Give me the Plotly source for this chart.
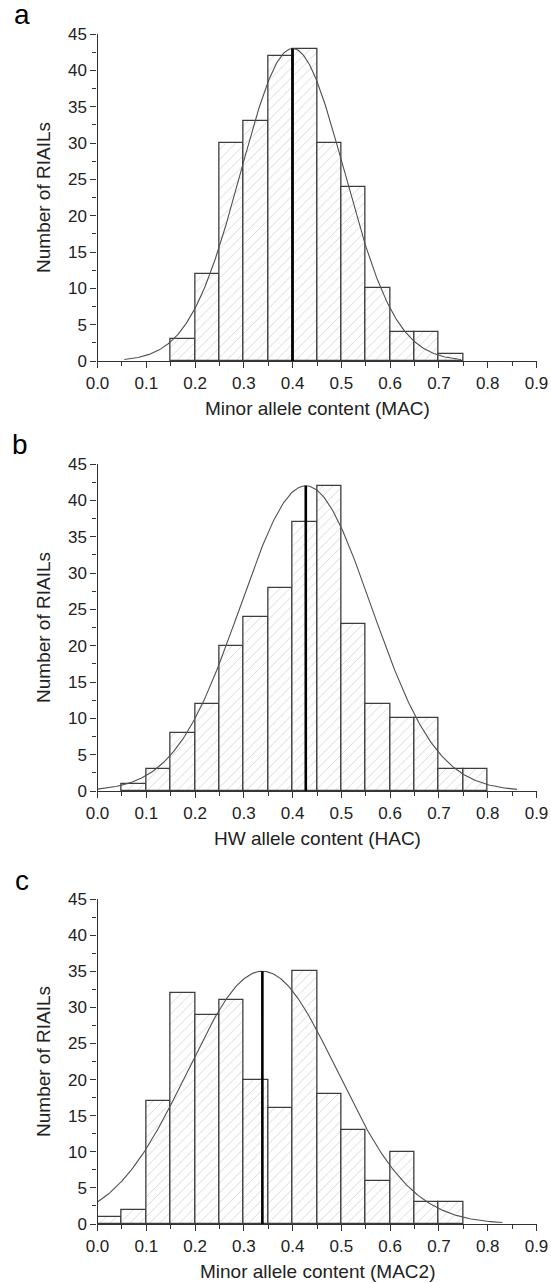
import numpy as np
import plotly.graph_objects as go

# ---------------- data ----------------
bin_width = 0.05

# panel a: Minor allele content (MAC)
a_bin_starts = [0.15, 0.20, 0.25, 0.30, 0.35, 0.40, 0.45, 0.50, 0.55, 0.60, 0.65, 0.70]
a_counts = [3, 12, 30, 33, 42, 43, 30, 24, 10, 4, 4, 1]
a_mean, a_sigma, a_peak = 0.400, 0.106, 43
a_curve_range = [0.055, 0.745]

# panel b: HW allele content (HAC)
b_bin_starts = [0.05, 0.10, 0.15, 0.20, 0.25, 0.30, 0.35, 0.40, 0.45, 0.50, 0.55, 0.60, 0.65, 0.70, 0.75]
b_counts = [1, 3, 8, 12, 20, 24, 28, 37, 42, 23, 12, 10, 10, 3, 3]
b_mean, b_sigma, b_peak = 0.427, 0.134, 42
b_curve_range = [0.0, 0.86]

# panel c: Minor allele content (MAC2)
c_bin_starts = [0.00, 0.05, 0.10, 0.15, 0.20, 0.25, 0.30, 0.35, 0.40, 0.45, 0.50, 0.55, 0.60, 0.65, 0.70]
c_counts = [1, 2, 17, 32, 29, 31, 20, 16, 35, 18, 13, 6, 10, 3, 3]
c_mean, c_sigma, c_peak = 0.338, 0.153, 35
c_curve_range = [0.0, 0.83]

x_ticks = [0.0, 0.1, 0.2, 0.3, 0.4, 0.5, 0.6, 0.7, 0.8, 0.9]
x_tick_labels = ["0.0", "0.1", "0.2", "0.3", "0.4", "0.5", "0.6", "0.7", "0.8", "0.9"]
y_ticks = [0, 5, 10, 15, 20, 25, 30, 35, 40, 45]

x_titles = ["Minor allele content (MAC)", "HW allele content (HAC)", "Minor allele content (MAC2)"]
y_title = "Number of RIAILs"
panel_letters = ["a", "b", "c"]

panels = [
    (a_bin_starts, a_counts, a_mean, a_sigma, a_peak, a_curve_range),
    (b_bin_starts, b_counts, b_mean, b_sigma, b_peak, b_curve_range),
    (c_bin_starts, c_counts, c_mean, c_sigma, c_peak, c_curve_range),
]

# ---------------- layout geometry ----------------
W, H = 551, 1283
x_dom = [97.5 / W, 536.5 / W]
# (top_px, bottom_px) of each plot area
plot_px = [(34, 361), (464, 791), (899, 1224)]
letter_px = [(22, 15), (20, 445), (22, 880)]
xtitle_px = [408, 838, 1271]

FONT = "Liberation Sans, Arial, sans-serif"
AXC = "#333333"

fig = go.Figure()

for i, (starts, counts, mu, sd, pk, crange) in enumerate(panels):
    n = i + 1
    xa = "x" if n == 1 else f"x{n}"
    ya = "y" if n == 1 else f"y{n}"
    centers = [s + bin_width / 2 for s in starts]
    fig.add_trace(go.Bar(
        x=centers, y=counts, width=bin_width,
        marker=dict(color="white",
                    line=dict(color="#3c3c3c", width=1.3),
                    pattern=dict(shape="/", fgcolor="#d2d2d2", bgcolor="white",
                                 size=7, solidity=0.12)),
        xaxis=xa, yaxis=ya, showlegend=False, hoverinfo="skip"))
    xs = np.linspace(crange[0], crange[1], 300)
    ys = pk * np.exp(-0.5 * ((xs - mu) / sd) ** 2)
    fig.add_trace(go.Scatter(
        x=xs, y=ys, mode="lines", line=dict(color="#505050", width=1.1),
        xaxis=xa, yaxis=ya, showlegend=False, hoverinfo="skip"))
    fig.add_trace(go.Scatter(
        x=[mu, mu], y=[0, pk], mode="lines", line=dict(color="black", width=2.6),
        xaxis=xa, yaxis=ya, showlegend=False, hoverinfo="skip"))

    top, bot = plot_px[i]
    ydom = [1 - bot / H, 1 - top / H]
    xkey = "xaxis" if n == 1 else f"xaxis{n}"
    ykey = "yaxis" if n == 1 else f"yaxis{n}"
    fig.layout[xkey] = dict(
        domain=x_dom, range=[0, 0.9], anchor=ya, automargin=False,
        tickmode="array", tickvals=x_ticks, ticktext=x_tick_labels,
        ticks="outside", ticklen=6, tickwidth=1.3, tickcolor=AXC,
        minor=dict(ticks="outside", ticklen=4, tickwidth=1.3, tickcolor=AXC, dtick=0.05, tick0=0),
        showline=True, linecolor=AXC, linewidth=1.3,
        showgrid=False, zeroline=False,
        tickfont=dict(family=FONT, size=17, color="#222"),
        fixedrange=True)
    fig.layout[ykey] = dict(
        domain=ydom, range=[0, 45], anchor=xa, automargin=False,
        tickmode="array", tickvals=y_ticks,
        ticks="outside", ticklen=6, tickwidth=1.3, tickcolor=AXC,
        minor=dict(ticks="outside", ticklen=4, tickwidth=1.3, tickcolor=AXC, dtick=2.5, tick0=0),
        showline=True, linecolor=AXC, linewidth=1.3,
        showgrid=False, zeroline=False,
        tickfont=dict(family=FONT, size=17, color="#222"),
        title=dict(text=y_title, font=dict(family=FONT, size=19, color="#222"), standoff=12),
        fixedrange=True)

    fig.add_annotation(text=panel_letters[i], xref="paper", yref="paper",
                       x=letter_px[i][0] / W, y=1 - letter_px[i][1] / H,
                       xanchor="center", yanchor="middle", showarrow=False,
                       borderpad=0,
                       font=dict(family=FONT, size=28, color="black"))
    fig.add_annotation(text=x_titles[i], xref="paper", yref="paper",
                       x=(x_dom[0] + x_dom[1]) / 2, y=1 - xtitle_px[i] / H,
                       xanchor="center", yanchor="middle", showarrow=False,
                       font=dict(family=FONT, size=19, color="#222"))

fig.update_layout(
    template="none",
    width=W, height=H,
    margin=dict(l=0, r=0, t=0, b=0, autoexpand=False),
    plot_bgcolor="white", paper_bgcolor="white",
    bargap=0, barmode="overlay",
    showlegend=False,
)

fig.write_html("out.html", config={"displayModeBar": False},
               post_script="document.body.style.margin='0';document.body.style.overflow='hidden';")
